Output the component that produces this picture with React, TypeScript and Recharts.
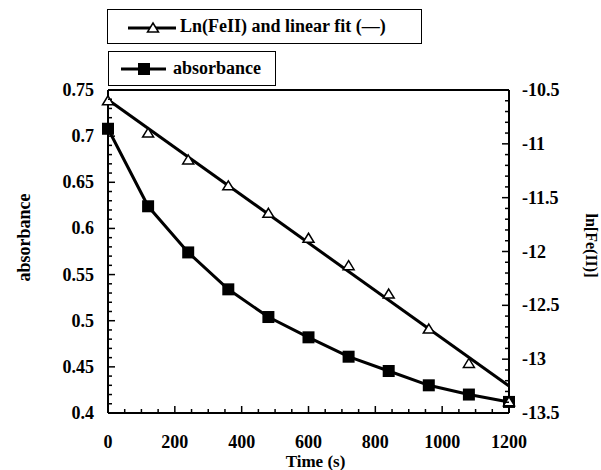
import React from "react"
import {
  ComposedChart,
  Line,
  XAxis,
  YAxis,
  ReferenceLine,
  Legend,
  Label,
} from "recharts"

// time points (s)
const times = [0, 120, 240, 360, 480, 600, 720, 840, 960, 1080, 1200]
// absorbance readings (left axis)
const absorbance = [0.708, 0.624, 0.574, 0.534, 0.504, 0.482, 0.461, 0.4455, 0.43, 0.42, 0.412]
// ln[Fe(II)] readings (right axis)
const lnFe = [-10.6, -10.9, -11.15, -11.39, -11.645, -11.877, -12.132, -12.395, -12.72, -13.04, -13.395]
// linear fit end points
const fitTimes = [0, 1200]
const fitValues = [-10.59, -13.25]

const xTicks = [0, 200, 400, 600, 800, 1000, 1200]
const leftTicks = [0.4, 0.45, 0.5, 0.55, 0.6, 0.65, 0.7, 0.75]
const rightTicks = [-13.5, -13, -12.5, -12, -11.5, -11, -10.5]

const absData = times.map((t, i) => ({ t, abs: absorbance[i] }))
const lnData = times.map((t, i) => ({ t, ln: lnFe[i] }))
const fitData = fitTimes.map((t, i) => ({ t, fit: fitValues[i] }))

// add minor ticks between majors
const withMinor = (majors: number[], parts: number) => {
  const out: number[] = []
  for (let i = 0; i < majors.length - 1; i++) {
    const step = (majors[i + 1] - majors[i]) / parts
    for (let k = 0; k < parts; k++) out.push(+(majors[i] + k * step).toFixed(4))
  }
  out.push(majors[majors.length - 1])
  return out
}

const isIn = (v: number, list: number[]) => list.some((m) => Math.abs(m - v) < 1e-6)

const FONT = '"Liberation Serif", "Times New Roman", serif'
const textStyle = { fontFamily: FONT, fontWeight: 700, fontSize: 18, fill: "#000" }

const LeftTick = (props: any) => {
  const { x, y, payload } = props
  const major = isIn(payload.value, leftTicks)
  return (
    <g>
      <line x1={x} x2={x + (major ? 7 : 4)} y1={y} y2={y} stroke="#000" strokeWidth={1.5} />
      {major && (
        <text x={x - 14} y={y} dy={6} textAnchor="end" style={textStyle}>
          {String(+payload.value.toFixed(2))}
        </text>
      )}
    </g>
  )
}

const RightTick = (props: any) => {
  const { x, y, payload } = props
  const major = isIn(payload.value, rightTicks)
  return (
    <g>
      <line x1={x} x2={x - (major ? 7 : 4)} y1={y} y2={y} stroke="#000" strokeWidth={1.5} />
      {major && (
        <text x={x + 13} y={y} dy={6} textAnchor="start" style={textStyle}>
          {String(+payload.value.toFixed(1))}
        </text>
      )}
    </g>
  )
}

const BottomTick = (props: any) => {
  const { x, y, payload } = props
  const major = isIn(payload.value, xTicks)
  return (
    <g>
      <line x1={x} x2={x} y1={y} y2={y - (major ? 7 : 4)} stroke="#000" strokeWidth={1.5} />
      {major && (
        <text x={x} y={y + 35} textAnchor="middle" style={textStyle}>
          {payload.value}
        </text>
      )}
    </g>
  )
}

const Square = (props: any) => {
  const { cx, cy } = props
  if (cx == null || cy == null) return null
  return <rect x={cx - 6} y={cy - 6} width={12} height={12} fill="#000" />
}

const Triangle = (props: any) => {
  const { cx, cy } = props
  if (cx == null || cy == null) return null
  return (
    <path
      d={`M${cx},${cy - 5} L${cx + 5.5},${cy + 4} L${cx - 5.5},${cy + 4} Z`}
      fill="#fff"
      stroke="#000"
      strokeWidth={1.5}
    />
  )
}

const legendBox = {
  position: "absolute" as const,
  border: "1.5px solid #000",
  background: "#fff",
  boxSizing: "border-box" as const,
  display: "flex",
  alignItems: "center",
  fontFamily: FONT,
  fontWeight: 700,
  fontSize: 18,
  color: "#000",
  whiteSpace: "nowrap" as const,
}

const renderLegend = () => (
  <div style={{ position: "relative", width: 601, height: 90 }}>
    <div style={{ ...legendBox, left: 107, top: 9, width: 315, height: 35 }}>
      <svg width={72} height={20} style={{ flex: "none" }}>
        <line x1={20} x2={68} y1={11} y2={11} stroke="#000" strokeWidth={3} />
        <Triangle cx={45} cy={11} />
      </svg>
      <span>Ln(FeII) and linear fit (—)</span>
    </div>
    <div style={{ ...legendBox, left: 108, top: 51, width: 168, height: 35 }}>
      <svg width={64} height={20} style={{ flex: "none" }}>
        <line x1={12} x2={57} y1={10} y2={10} stroke="#000" strokeWidth={3} />
        <Square cx={35} cy={10} />
      </svg>
      <span>absorbance</span>
    </div>
  </div>
)

export default function App() {
  return (
    <div style={{ position: "absolute", left: 0, top: 0, width: 601, height: 470, background: "#fff" }}>
      <ComposedChart width={601} height={470} margin={{ top: 90, right: 0, bottom: 0, left: 0 }}>
        <XAxis
          dataKey="t"
          type="number"
          domain={[0, 1200]}
          ticks={withMinor(xTicks, 4)}
          interval={0}
          tickSize={0}
          tickMargin={0}
          tickLine={false}
          tick={<BottomTick />}
          axisLine={{ stroke: "#000", strokeWidth: 2 }}
          height={57}
        >
          <Label
            content={(p: any) => {
              const vb = p.viewBox
              return (
                <text x={vb.x + vb.width / 2 + 7} y={467} textAnchor="middle" style={{ ...textStyle, fontSize: 17 }}>
                  Time (s)
                </text>
              )
            }}
          />
        </XAxis>
        <YAxis
          yAxisId="left"
          type="number"
          domain={[0.4, 0.75]}
          ticks={withMinor(leftTicks, 5)}
          interval={0}
          tickSize={0}
          tickMargin={0}
          tickLine={false}
          tick={<LeftTick />}
          axisLine={{ stroke: "#000", strokeWidth: 2 }}
          width={108}
        >
          <Label
            content={(p: any) => {
              const vb = p.viewBox
              const cx = 30
              const cy = vb.y + vb.height / 2 - 14
              return (
                <text x={cx} y={cy} textAnchor="middle" transform={`rotate(-90, ${cx}, ${cy})`} style={textStyle}>
                  absorbance
                </text>
              )
            }}
          />
        </YAxis>
        <YAxis
          yAxisId="right"
          orientation="right"
          type="number"
          domain={[-13.5, -10.5]}
          ticks={withMinor(rightTicks, 5)}
          interval={0}
          tickSize={0}
          tickMargin={0}
          tickLine={false}
          tick={<RightTick />}
          axisLine={{ stroke: "#000", strokeWidth: 2 }}
          width={92}
        >
          <Label
            content={(p: any) => {
              const vb = p.viewBox
              const cx = 586
              const cy = vb.y + vb.height / 2 - 6
              return (
                <text x={cx} y={cy} textAnchor="middle" transform={`rotate(90, ${cx}, ${cy})`} style={{ ...textStyle, fontSize: 16 }}>
                  ln[Fe(II)]
                </text>
              )
            }}
          />
        </YAxis>
        <ReferenceLine yAxisId="left" y={0.75} stroke="#000" strokeWidth={2} />
        <Legend
          layout="vertical"
          align="center"
          verticalAlign="middle"
          content={renderLegend}
          wrapperStyle={{ left: 0, top: 0, width: 601, height: 90 }}
        />
        <Line
          data={fitData}
          dataKey="fit"
          yAxisId="right"
          stroke="#000"
          strokeWidth={3}
          dot={false}
          activeDot={false}
          isAnimationActive={false}
        />
        <Line
          data={absData}
          dataKey="abs"
          yAxisId="left"
          stroke="#000"
          strokeWidth={3}
          dot={<Square />}
          activeDot={false}
          isAnimationActive={false}
        />
        <Line
          data={lnData}
          dataKey="ln"
          yAxisId="right"
          stroke="none"
          dot={<Triangle />}
          activeDot={false}
          isAnimationActive={false}
        />
      </ComposedChart>
    </div>
  )
}
